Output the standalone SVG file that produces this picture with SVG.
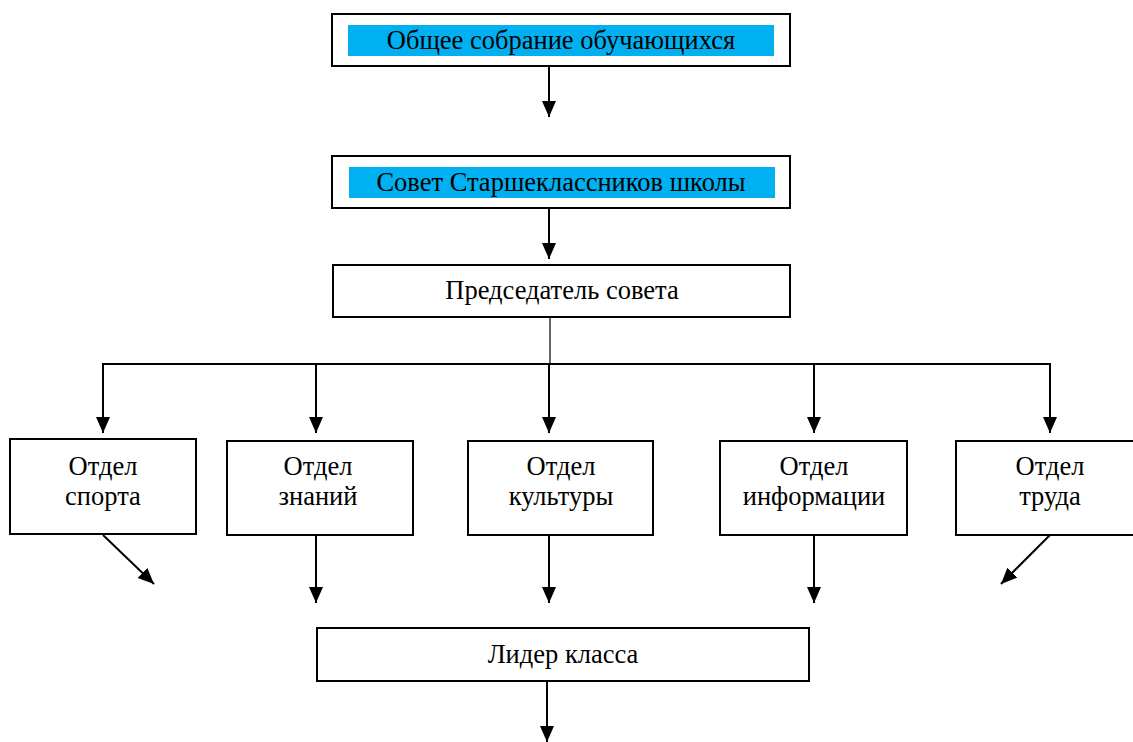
<svg xmlns="http://www.w3.org/2000/svg" width="1133" height="742" viewBox="0 0 1133 742">
<style>
.box{fill:#fff;stroke:#000;stroke-width:2}
.hl{fill:#00B0F0}
.t{font-family:"Liberation Serif","Times New Roman",serif;font-size:26.5px;fill:#000;text-anchor:middle}
.c{fill:none;stroke:#000;stroke-width:2}
.c1{fill:none;stroke:#000;stroke-width:1.2}
</style>
<defs>
<marker id="ah" markerWidth="9" markerHeight="8" refX="8" refY="3.5" orient="auto" markerUnits="strokeWidth">
<path d="M0,0 L8,3.5 L0,7 Z" fill="#000"/>
</marker>
</defs>
<rect width="1133" height="742" fill="#fff"/>
<g id="connectors">
<line class="c" x1="549" y1="67" x2="549" y2="117" marker-end="url(#ah)"/>
<line class="c" x1="549" y1="209" x2="549" y2="259" marker-end="url(#ah)"/>
<line class="c1" x1="550" y1="317" x2="550" y2="364"/>
<line class="c" x1="103" y1="364" x2="1050" y2="364"/>
<line class="c" x1="103" y1="363" x2="103" y2="433" marker-end="url(#ah)"/>
<line class="c" x1="316" y1="364" x2="316" y2="433" marker-end="url(#ah)"/>
<line class="c" x1="549" y1="364" x2="549" y2="433" marker-end="url(#ah)"/>
<line class="c" x1="814" y1="364" x2="814" y2="433" marker-end="url(#ah)"/>
<line class="c" x1="1050" y1="363" x2="1050" y2="433" marker-end="url(#ah)"/>
<line class="c" x1="103" y1="535" x2="154" y2="584" marker-end="url(#ah)"/>
<line class="c" x1="316" y1="536" x2="316" y2="603" marker-end="url(#ah)"/>
<line class="c" x1="549" y1="536" x2="549" y2="603" marker-end="url(#ah)"/>
<line class="c" x1="814" y1="536" x2="814" y2="603" marker-end="url(#ah)"/>
<line class="c" x1="1050" y1="535" x2="1001" y2="584" marker-end="url(#ah)"/>
<line class="c" x1="547" y1="682" x2="547" y2="742" marker-end="url(#ah)"/>
</g>
<g id="n-obshchee">
<rect class="box" x="332" y="14" width="458" height="52"/>
<rect class="hl" x="348" y="25" width="426" height="31"/>
<text class="t" x="561" y="49">Общее собрание обучающихся</text>
</g>
<g id="n-sovet">
<rect class="box" x="332" y="156" width="458" height="52"/>
<rect class="hl" x="349" y="167" width="426" height="31"/>
<text class="t" x="561" y="191">Совет Старшеклассников школы</text>
</g>
<g id="n-predsedatel">
<rect class="box" x="333" y="265" width="457" height="52"/>
<text class="t" x="562" y="299">Председатель совета</text>
</g>
<g id="n-sport">
<rect class="box" x="10" y="439" width="186" height="95"/>
<text class="t" x="103" y="475">Отдел</text>
<text class="t" x="103" y="505">спорта</text>
</g>
<g id="n-znaniy">
<rect class="box" x="227" y="441" width="186" height="94"/>
<text class="t" x="318" y="475">Отдел</text>
<text class="t" x="318" y="505">знаний</text>
</g>
<g id="n-kultury">
<rect class="box" x="468" y="441" width="185" height="94"/>
<text class="t" x="561" y="475">Отдел</text>
<text class="t" x="561" y="505">культуры</text>
</g>
<g id="n-informatsii">
<rect class="box" x="720" y="441" width="187" height="94"/>
<text class="t" x="814" y="475">Отдел</text>
<text class="t" x="814" y="505">информации</text>
</g>
<g id="n-truda">
<rect class="box" x="956" y="441" width="190" height="94"/>
<text class="t" x="1050" y="475">Отдел</text>
<text class="t" x="1050" y="505">труда</text>
</g>
<g id="n-lider">
<rect class="box" x="317" y="628" width="492" height="53"/>
<text class="t" x="563" y="663">Лидер класса</text>
</g>
</svg>
